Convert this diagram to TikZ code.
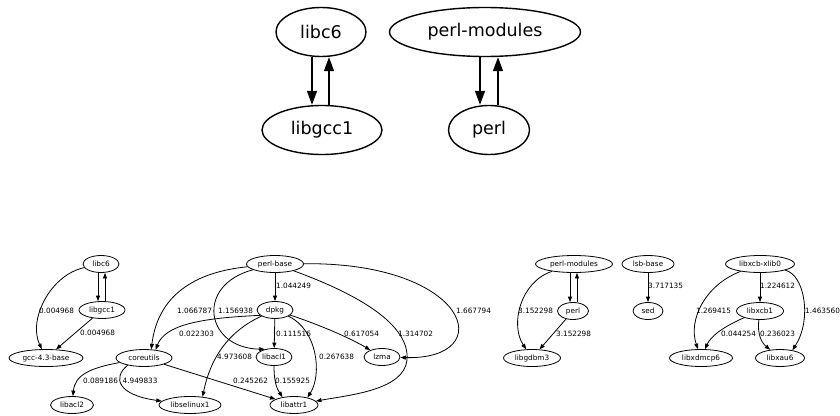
\documentclass[tikz,border=0pt]{standalone}
\usepackage{fontspec}
\setmainfont{DejaVu Sans}
\usetikzlibrary{shapes.geometric,arrows.meta}
\begin{document}
\begin{tikzpicture}[x=1pt,y=-1pt,
  big/.style={ellipse,draw,line width=1.4pt,inner sep=0pt,minimum height=49pt,font=\fontsize{17.5}{20}\selectfont},
  bigedge/.style={line width=1.4pt,-{Triangle[length=14pt,width=10pt]}},
  sm/.style={ellipse,draw,line width=0.8pt,inner sep=0pt,minimum height=17pt,font=\fontsize{7.3}{8}\selectfont},
  e/.style={line width=0.8pt,-{Triangle[length=5.5pt,width=4pt]}},
  lbl/.style={anchor=west,inner sep=0pt,font=\fontsize{7.3}{8}\selectfont}]
\useasboundingbox (0,0) rectangle (840,415);
% top graph
\node[big,minimum width=90pt] (tlibc) at (321,32) {libc6};
\node[big,minimum width=120pt] (tlibgcc) at (322,130) {libgcc1};
\node[big,minimum width=191pt] (tpm) at (485,32) {perl-modules};
\node[big,minimum width=81pt] (tperl) at (489,130) {perl};
\draw[bigedge] ([xshift=-9pt]tlibc.south) -- ([xshift=-10pt]tlibgcc.north);
\draw[bigedge] ([xshift=7pt]tlibgcc.north) -- ([xshift=8pt]tlibc.south);
\draw[bigedge] ([xshift=-5pt]tpm.south) -- ([xshift=-9pt]tperl.north);
\draw[bigedge] ([xshift=9pt]tperl.north) -- ([xshift=13pt]tpm.south);
% bottom nodes
\node[sm,minimum width=36pt] (libc6) at (101,264) {libc6};
\node[sm,minimum width=46pt] (libgcc1) at (102,310) {libgcc1};
\node[sm,minimum width=74pt] (gcc) at (46,358) {gcc-4.3-base};
\node[sm,minimum width=56pt] (coreutils) at (144,358) {coreutils};
\node[sm,minimum width=43pt] (libacl2) at (72,405) {libacl2};
\node[sm,minimum width=62pt] (libselinux1) at (190,405) {libselinux1};
\node[sm,minimum width=57pt] (perlbase) at (275,264) {perl-base};
\node[sm,minimum width=36pt] (dpkg) at (275,310) {dpkg};
\node[sm,minimum width=36pt] (libacl1) at (274,357) {libacl1};
\node[sm,minimum width=36pt] (lzma) at (382,357) {lzma};
\node[sm,minimum width=48pt] (libattr1) at (294,405) {libattr1};
\node[sm,minimum width=77pt] (bpm) at (574,264) {perl-modules};
\node[sm,minimum width=31pt] (bperl) at (573,311) {perl};
\node[sm,minimum width=57pt] (libgdbm3) at (532,358) {libgdbm3};
\node[sm,minimum width=52pt] (lsbbase) at (648,264) {lsb-base};
\node[sm,minimum width=30pt] (sed) at (648,311) {sed};
\node[sm,minimum width=69pt] (xlib0) at (760,264) {libxcb-xlib0};
\node[sm,minimum width=47pt] (xcb1) at (760,311) {libxcb1};
\node[sm,minimum width=63pt] (xdmcp6) at (701,358) {libxdmcp6};
\node[sm,minimum width=49pt] (xau6) at (780,358) {libxau6};
% bottom edges
\draw[e] ([xshift=-3pt]libc6.south) -- ([xshift=-4pt]libgcc1.north);
\draw[e] ([xshift=3pt]libgcc1.north) -- ([xshift=4pt]libc6.south);
\draw[e] (libc6) .. controls (50,275) and (28,320) .. (gcc);
\draw[e] (libgcc1) -- (gcc);
\draw[e] (perlbase) -- (dpkg);
\draw[e] (perlbase) .. controls (195,272) and (158,295) .. (coreutils.50);
\draw[e] (perlbase) .. controls (195,285) and (205,348) .. (libacl1.140);
\draw[e] (perlbase) .. controls (470,262) and (500,360) .. (lzma);
\draw[e] (perlbase) .. controls (360,295) and (410,325) .. (407,360) .. controls (404,390) and (350,395) .. (libattr1);
\draw[e] (dpkg) -- (libacl1);
\draw[e] (dpkg) .. controls (320,325) and (350,338) .. (lzma);
\draw[e] (dpkg) .. controls (318,330) and (322,375) .. (libattr1.29);
\draw[e] (dpkg.200) .. controls (200,318) and (165,325) .. (coreutils.35);
\draw[e] (dpkg) .. controls (220,335) and (208,370) .. (libselinux1.33);
\draw[e] (libacl1.south) .. controls (274,385) and (278,390) .. (libattr1.146);
\draw[e] (coreutils) -- (libattr1);
\draw[e] (coreutils) .. controls (90,368) and (75,375) .. (libacl2);
\draw[e] (coreutils.204) .. controls (112,378) and (118,395) .. (libselinux1);
\draw[e] ([xshift=-4pt]bpm.south) -- ([xshift=-3pt]bperl.north);
\draw[e] ([xshift=4pt]bperl.north) -- ([xshift=3pt]bpm.south);
\draw[e] (bpm) .. controls (520,282) and (510,325) .. (libgdbm3);
\draw[e] (bperl) -- (libgdbm3);
\draw[e] (lsbbase) -- (sed);
\draw[e] (xlib0) -- (xcb1);
\draw[e] (xlib0) .. controls (705,285) and (688,320) .. (xdmcp6);
\draw[e] (xlib0) .. controls (805,275) and (812,320) .. (xau6.32);
\draw[e] (xcb1) .. controls (720,328) and (710,338) .. (xdmcp6);
\draw[e] (xcb1) .. controls (757,335) and (762,343) .. (xau6);
% labels
\node[lbl] (l1) at (276,286) {1.044249};
\node[lbl] (l2) at (218,311) {1.156938};
\node[lbl] (l3) at (177,311) {1.066787};
\node[lbl] (l4) at (179,334) {0.022303};
\node[lbl] (l5) at (276,334) {0.111516};
\node[lbl] (l6) at (344,334) {0.617054};
\node[lbl] (l7) at (398,334) {1.314702};
\node[lbl] (l8) at (456,311) {1.667794};
\node[lbl] (l9) at (217,357) {4.973608};
\node[lbl] (l10) at (319,357) {0.267638};
\node[lbl] (l11) at (233,381) {0.245262};
\node[lbl] (l12) at (275,381) {0.155925};
\node[lbl] (l13) at (39,311) {0.004968};
\node[lbl] (l14) at (80,333) {0.004968};
\node[lbl] (l15) at (83,381) {0.089186};
\node[lbl] (l16) at (122.5,381) {4.949833};
\node[lbl] (l17) at (518,311) {3.152298};
\node[lbl] (l18) at (556,334) {3.152298};
\node[lbl] (l19) at (648,286) {3.717135};
\node[lbl] (l20) at (760,286) {1.224612};
\node[lbl] (l21) at (696,311) {1.269415};
\node[lbl] (l22) at (805,311) {1.463560};
\node[lbl] (l23) at (721,334) {0.044254};
\node[lbl] (l24) at (760,334) {0.236023};
\end{tikzpicture}
\end{document}
